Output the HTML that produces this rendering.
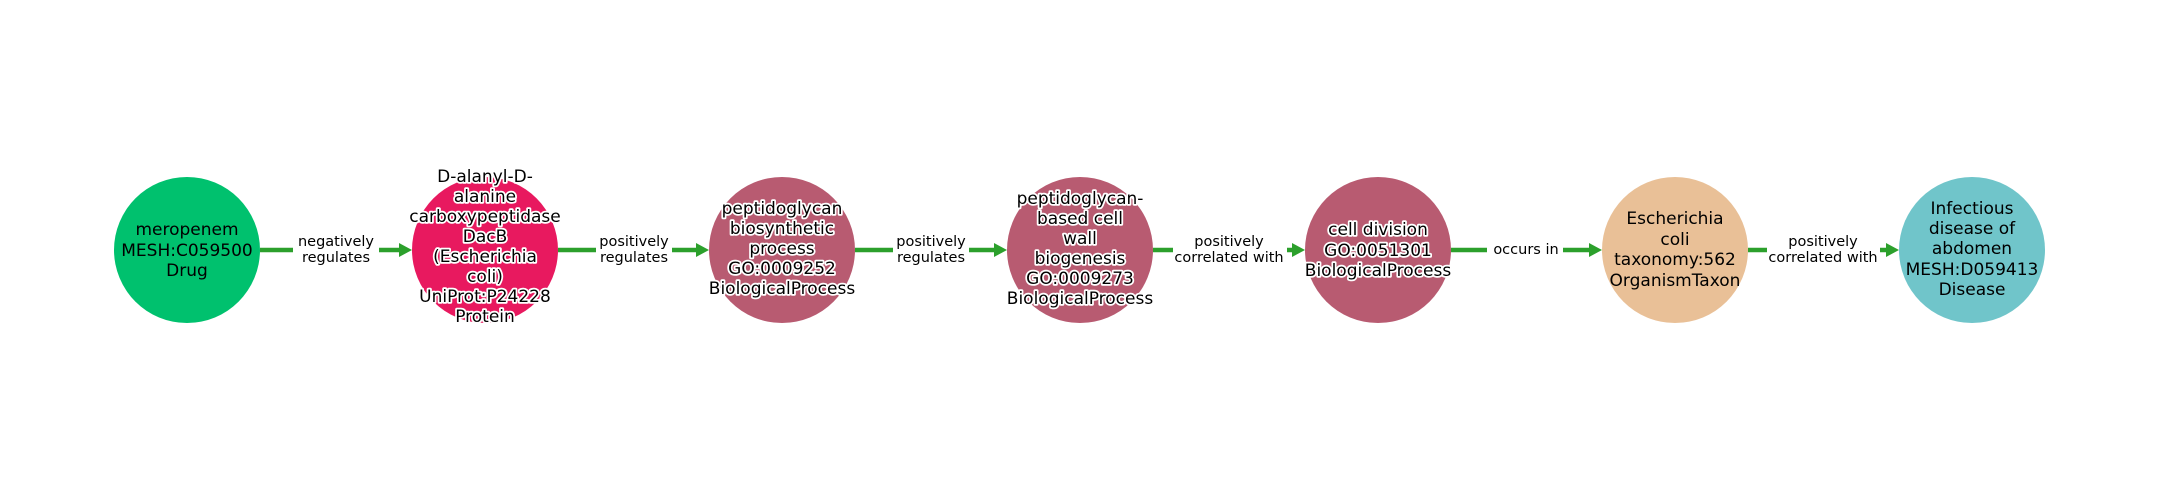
<!DOCTYPE html>
<html><head><meta charset="utf-8"><style>
html,body{margin:0;padding:0;background:#fff;}
svg{display:block;}
.n{font-family:"DejaVu Sans","Liberation Sans",sans-serif;font-size:17px;text-anchor:middle;fill:#000;}
.o{stroke:#fff;stroke-width:3.5px;paint-order:stroke;stroke-linejoin:round;}
.e{font-family:"DejaVu Sans","Liberation Sans",sans-serif;font-size:14.5px;text-anchor:middle;fill:#000;}
</style></head><body>
<svg width="2160" height="500" viewBox="0 0 2160 500" xmlns="http://www.w3.org/2000/svg">
<g stroke="#2ca02c" stroke-width="4.5">
<line x1="260" y1="250" x2="400" y2="250"/>
<line x1="558" y1="250" x2="698" y2="250"/>
<line x1="855" y1="250" x2="995" y2="250"/>
<line x1="1153" y1="250" x2="1293" y2="250"/>
<line x1="1451" y1="250" x2="1590" y2="250"/>
<line x1="1748" y1="250" x2="1887" y2="250"/>
</g>
<g fill="#2ca02c">
<polygon points="412,250 399,243 399,257"/>
<polygon points="709,250 696,243 696,257"/>
<polygon points="1007,250 994,243 994,257"/>
<polygon points="1305,250 1292,243 1292,257"/>
<polygon points="1602,250 1589,243 1589,257"/>
<polygon points="1899,250 1886,243 1886,257"/>
</g>
<g fill="#fff">
<rect x="293" y="230" width="86" height="38"/>
<rect x="596" y="230" width="76" height="38"/>
<rect x="893" y="230" width="76" height="38"/>
<rect x="1173" y="230" width="114" height="38"/>
<rect x="1487" y="238" width="76" height="22"/>
<rect x="1767" y="230" width="113" height="38"/>
</g>
<text class="e" x="336" y="246">negatively</text><text class="e" x="336" y="262">regulates</text>
<text class="e" x="634" y="246">positively</text><text class="e" x="634" y="262">regulates</text>
<text class="e" x="931" y="246">positively</text><text class="e" x="931" y="262">regulates</text>
<text class="e" x="1229" y="246">positively</text><text class="e" x="1229" y="262">correlated with</text>
<text class="e" x="1526" y="254">occurs in</text>
<text class="e" x="1823" y="246">positively</text><text class="e" x="1823" y="262">correlated with</text>
<circle cx="187" cy="250" r="73" fill="#00c16e"/>
<circle cx="485" cy="250" r="73" fill="#e8195f"/>
<circle cx="782" cy="250" r="73" fill="#b85b71"/>
<circle cx="1080" cy="250" r="73" fill="#b85b71"/>
<circle cx="1378" cy="250" r="73" fill="#b85b71"/>
<circle cx="1675" cy="250" r="73" fill="#e9c097"/>
<circle cx="1972" cy="250" r="73" fill="#70c5ca"/>
<text class="n" x="187" y="235">meropenem</text>
<text class="n" x="187" y="256">MESH:C059500</text>
<text class="n" x="187" y="276">Drug</text>
<g class="n o">
<text x="485" y="182">D-alanyl-D-</text>
<text x="485" y="202">alanine</text>
<text x="485" y="222">carboxypeptidase</text>
<text x="485" y="242">DacB</text>
<text x="485" y="262">(Escherichia</text>
<text x="485" y="282">coli)</text>
<text x="485" y="302">UniProt:P24228</text>
<text x="485" y="322">Protein</text>
<text x="782" y="214">peptidoglycan</text>
<text x="782" y="234">biosynthetic</text>
<text x="782" y="254">process</text>
<text x="782" y="274">GO:0009252</text>
<text x="782" y="294">BiologicalProcess</text>
<text x="1080" y="204">peptidoglycan-</text>
<text x="1080" y="224">based cell</text>
<text x="1080" y="244">wall</text>
<text x="1080" y="264">biogenesis</text>
<text x="1080" y="284">GO:0009273</text>
<text x="1080" y="304">BiologicalProcess</text>
<text x="1378" y="235">cell division</text>
<text x="1378" y="256">GO:0051301</text>
<text x="1378" y="276">BiologicalProcess</text>
</g>
<text class="n" x="1675" y="224">Escherichia</text>
<text class="n" x="1675" y="245">coli</text>
<text class="n" x="1675" y="265">taxonomy:562</text>
<text class="n" x="1675" y="286">OrganismTaxon</text>
<text class="n" x="1972" y="214">Infectious</text>
<text class="n" x="1972" y="234">disease of</text>
<text class="n" x="1972" y="254">abdomen</text>
<text class="n" x="1972" y="275">MESH:D059413</text>
<text class="n" x="1972" y="295">Disease</text>
</svg>
</body></html>
